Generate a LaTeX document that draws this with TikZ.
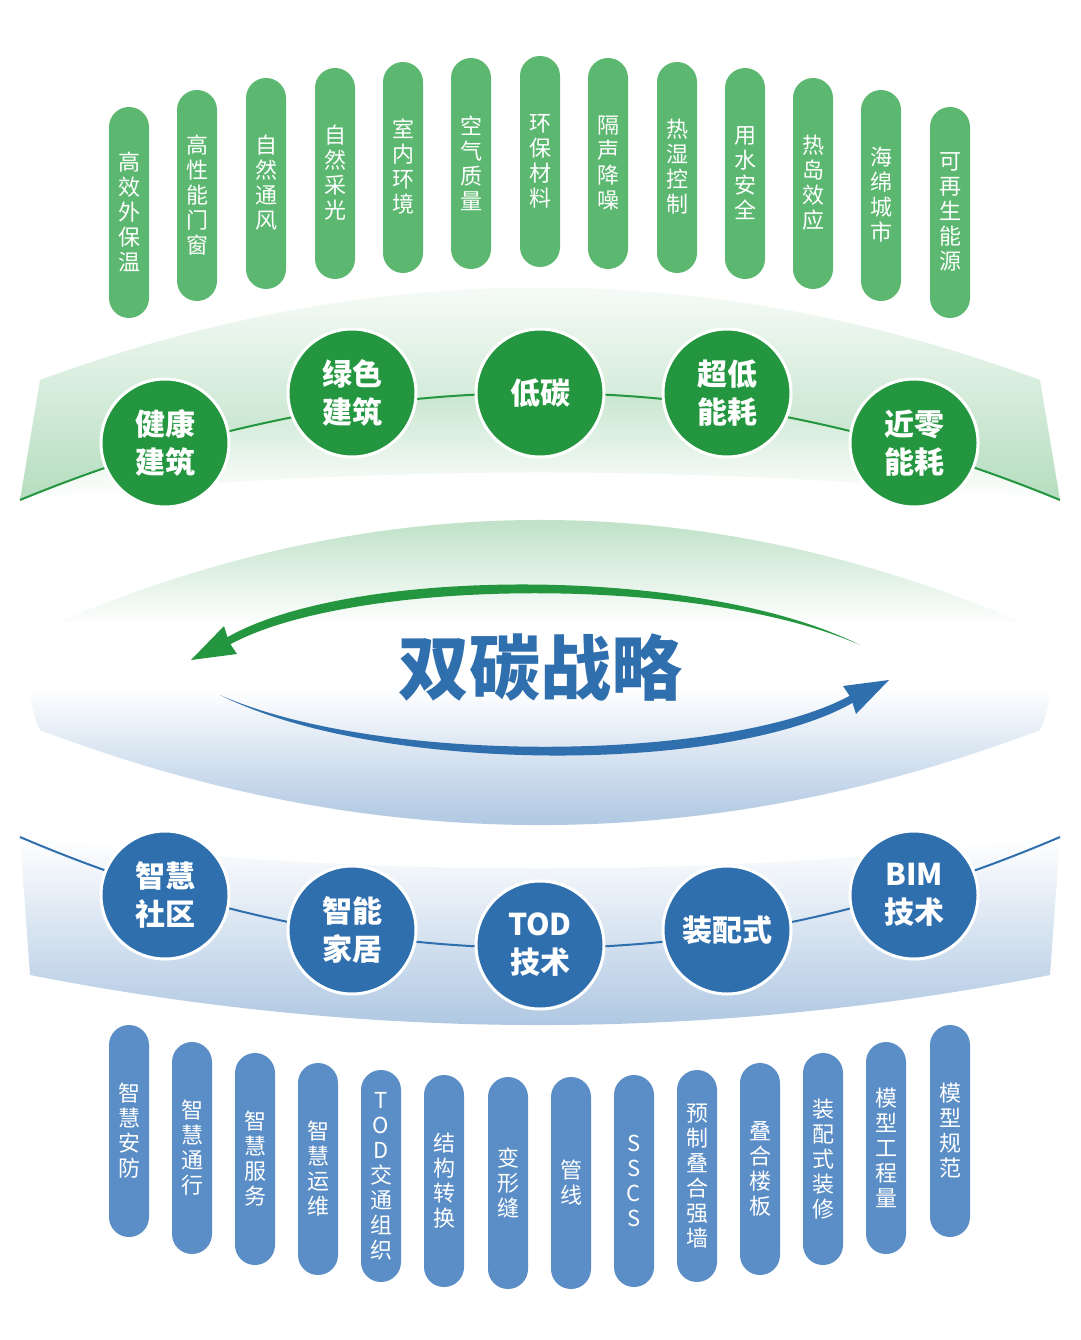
\documentclass[tikz,border=0pt]{standalone}
\usepackage{fontspec}
\setmainfont{Noto Sans CJK SC}
\newfontfamily\cjk{Noto Sans CJK SC}
\usetikzlibrary{arrows.meta}
\definecolor{pg}{HTML}{5CB870}
\definecolor{pb}{HTML}{5B8EC6}
\definecolor{cg}{HTML}{23963F}
\definecolor{cb}{HTML}{2F6FAE}
\definecolor{lg}{HTML}{B5DDBF}
\definecolor{lb}{HTML}{A9C3E0}
\pgfdeclareverticalshading{lensshade}{100bp}{color(0bp)=(lb); color(25bp)=(lb); color(31bp)=(lb!85); color(47.5bp)=(white); color(56bp)=(white); color(69bp)=(lg!80); color(75bp)=(lg); color(100bp)=(lg)}
\begin{document}
\begin{tikzpicture}[x=1pt,y=-1pt,
  pill/.style={rounded corners=20pt,inner sep=0pt},
  ptext/.style={text=white,font=\cjk\fontsize{22}{25}\selectfont,align=center,inner sep=0pt},
  disc/.style={circle,minimum size=128pt,inner sep=0pt,draw=white,line width=3pt,text=white,font=\cjk\bfseries\fontsize{30}{38}\selectfont,align=center}]
\useasboundingbox[fill=white] (0,0) rectangle (1080,1340);
% top green band
\shade[top color=white,bottom color=lg] (40,380) .. controls (373.3,256.7) and (706.7,256.7) .. (1040,380) -- (1060,500) .. controls (713.3,357.3) and (366.7,357.3) .. (20,500) -- cycle;
\shade[top color=lg,bottom color=white] (20,500) .. controls (366.7,357.3) and (713.3,357.3) .. (1060,500) .. controls (713.3,463.3) and (366.7,463.3) .. (20,500) -- cycle;
\draw[cg,line width=2pt] (20,500) .. controls (366.7,357.3) and (713.3,357.3) .. (1060,500);
% middle lens
\shade[shading=lensshade] (40,630) .. controls (373.3,483.3) and (706.7,483.3) .. (1040,630) .. controls (1055,665) and (1055,695) .. (1040,730) .. controls (706.7,856.7) and (373.3,856.7) .. (40,730) .. controls (25,695) and (25,665) .. (40,630) -- cycle;
% bottom blue band
\shade[top color=white,bottom color=lb!70] (20,837) .. controls (366.7,985) and (713.3,985) .. (1060,837) .. controls (713.3,879) and (366.7,879) .. (20,837) -- cycle;
\shade[top color=white,bottom color=lb] (20,837) .. controls (366.7,985) and (713.3,985) .. (1060,837) -- (1050,975) .. controls (710,1041.7) and (370,1041.7) .. (30,975) -- cycle;
\draw[cb,line width=2pt] (20,837) .. controls (366.7,985) and (713.3,985) .. (1060,837);
% arrows
\begin{scope}
\fill[cg] (860,645) .. controls (700,565) and (350,566) .. (226,638) -- (229,645) .. controls (350,578) and (700,574) .. (860,645) -- cycle;
\fill[cg] (191,660) -- (224,626) -- (229,642) -- (237,654) -- cycle;
\end{scope}
\begin{scope}[rotate around={180:(540,670)}]
\fill[cb] (860,645) .. controls (700,565) and (350,566) .. (226,638) -- (229,645) .. controls (350,578) and (700,574) .. (860,645) -- cycle;
\fill[cb] (191,660) -- (224,626) -- (229,642) -- (237,654) -- cycle;
\end{scope}
\node[text=cb,font=\cjk\bfseries\fontsize{71}{74}\selectfont] (title) at (540,668) {双碳战略};
% top pills
\foreach \i/\x/\t/\s in {1/129/107/高\\效\\外\\保\\温, 2/197/90/高\\性\\能\\门\\窗, 3/266/78/自\\然\\通\\风, 4/335/68/自\\然\\采\\光, 5/403/62/室\\内\\环\\境, 6/471/58/空\\气\\质\\量, 7/540/56/环\\保\\材\\料, 8/608/58/隔\\声\\降\\噪, 9/677/62/热\\湿\\控\\制, 10/745/68/用\\水\\安\\全, 11/813/78/热\\岛\\效\\应, 12/881/90/海\\绵\\城\\市, 13/950/107/可\\再\\生\\能\\源}{
  \fill[pg,pill] (\x-20,\t) rectangle (\x+20,\t+211);
  \node[ptext] (tp\i) at (\x,\t+105) {\s};
}
% bottom pills
\foreach \i/\x/\t/\s in {1/129/1025/智\\慧\\安\\防, 2/192/1042/智\\慧\\通\\行, 3/255/1053/智\\慧\\服\\务, 4/318/1063/智\\慧\\运\\维, 5/381/1070/T\\O\\D\\交\\通\\组\\织, 6/444/1075/结\\构\\转\\换, 7/508/1077/变\\形\\缝, 8/571/1077/管\\线, 9/634/1075/S\\S\\C\\S, 10/697/1070/预\\制\\叠\\合\\强\\墙, 11/760/1063/叠\\合\\楼\\板, 12/823/1053/装\\配\\式\\装\\修, 13/886/1042/模\\型\\工\\程\\量, 14/950/1025/模\\型\\规\\范}{
  \fill[pb,pill] (\x-20,\t) rectangle (\x+20,\t+212);
  \node[ptext] (bp\i) at (\x,\t+106) {\s};
}
% discs
\node[disc,fill=cg] (g1) at (165,443) {健康\\建筑};
\node[disc,fill=cg] (g2) at (352,393) {绿色\\建筑};
\node[disc,fill=cg] (g3) at (540,393) {低碳};
\node[disc,fill=cg] (g4) at (727,393) {超低\\能耗};
\node[disc,fill=cg] (g5) at (914,443) {近零\\能耗};
\node[disc,fill=cb] (b1) at (165,895) {智慧\\社区};
\node[disc,fill=cb] (b2) at (352,930) {智能\\家居};
\node[disc,fill=cb] (b3) at (540,945) {TOD\\技术};
\node[disc,fill=cb] (b4) at (727,930) {装配式};
\node[disc,fill=cb] (b5) at (914,895) {BIM\\技术};
\end{tikzpicture}
\end{document}
